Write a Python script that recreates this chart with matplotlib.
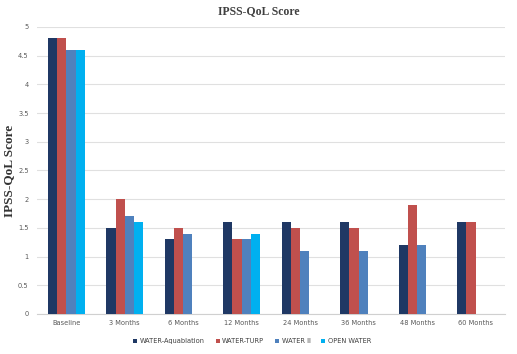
import numpy as np
import matplotlib
matplotlib.use("Agg")
import matplotlib.pyplot as plt

categories = ["Baseline", "3 Months", "6 Months", "12 Months", "24 Months",
              "36 Months", "48 Months", "60 Months"]
series = ["WATER-Aquablation", "WATER-TURP", "WATER II", "OPEN WATER"]
aquablation = [4.8, 1.5, 1.3, 1.6, 1.6, 1.6, 1.2, 1.6]
turp = [4.8, 2.0, 1.5, 1.3, 1.5, 1.5, 1.9, 1.6]
water2 = [4.6, 1.7, 1.4, 1.3, 1.1, 1.1, 1.2, np.nan]
open_water = [4.6, 1.6, np.nan, 1.4, np.nan, np.nan, np.nan, np.nan]
colors = ["#1F3864", "#C0504D", "#4F81BD", "#00B0F0"]

fig = plt.figure(figsize=(5.17, 3.54), dpi=100)
ax = fig.add_axes([0.0716, 0.113, 0.905, 0.811])

x = np.arange(len(categories))
w = 0.158
for i, (name, vals) in enumerate(zip(series, [aquablation, turp, water2, open_water])):
    ax.bar(x + (i - 1.5) * w, vals, w, color=colors[i], label=name, zorder=3)

ax.set_xlim(-0.5, len(categories) - 0.5)
ax.set_ylim(0, 5)
ax.set_yticks(np.arange(0, 5.01, 0.5))
ax.set_yticklabels(["0", "0.5", "1", "1.5", "2", "2.5", "3", "3.5", "4", "4.5", "5"])
ax.set_xticks(x)
ax.set_xticklabels(categories)
ax.tick_params(axis="both", length=0, labelsize=4.8, colors="#595959")
ax.tick_params(axis="x", pad=4)
ax.tick_params(axis="y", pad=6)
ax.grid(axis="y", color="#E0E0E0", linewidth=0.8, zorder=0)
for s in ["top", "right", "left"]:
    ax.spines[s].set_visible(False)
ax.spines["bottom"].set_color("#D0D0D0")

ax.set_ylabel("IPSS-QoL Score", family="Liberation Serif", fontweight="bold",
              fontsize=9.5, color="#333333")
ax.yaxis.set_label_coords(-0.047, 0.5)
fig.suptitle("IPSS-QoL Score", family="Liberation Serif", fontweight="bold",
             fontsize=8.5, color="#404040", y=0.985)

ax.legend(loc="center", bbox_to_anchor=(0.46, -0.095), ncol=4, frameon=False,
          fontsize=4.8, handlelength=0.6, handleheight=0.6, handletextpad=0.4,
          columnspacing=1.6, labelcolor="#404040")

fig.savefig("out.png", dpi=100)
